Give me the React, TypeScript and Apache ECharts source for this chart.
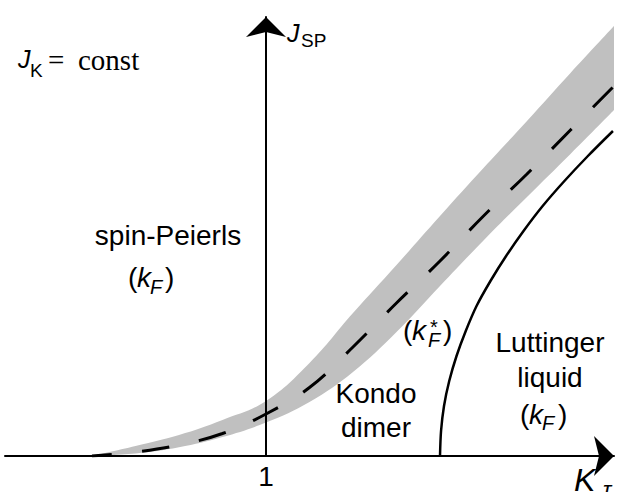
import React, { useEffect, useRef } from 'react';
import * as echarts from 'echarts';

// K_tau positions at which the band edges and the crossover line were read
const kValues = [0, 0.25, 0.5, 0.75, 1, 1.25, 1.5, 1.75, 2, 2.25, 2.5, 2.75, 3];
// upper / lower edge of the grey crossover band (J_SP)
const bandUpper = [0, 0.1, 0.21, 0.36, 0.55, 0.93, 1.43, 1.91, 2.4, 2.88, 3.35, 3.83, 4.3];
const bandLower = [0, 0.025, 0.087, 0.19, 0.335, 0.54, 0.84, 1.24, 1.7, 2.155, 2.59, 3.02, 3.46];
// dashed crossover line
const crossover = [0, 0.04, 0.11, 0.225, 0.42, 0.685, 1.09, 1.53, 1.95, 2.4, 2.82, 3.26, 3.7];
// solid Luttinger-liquid boundary (K_tau read at each J_SP)
const luttingerJ = [0, 0.25, 0.5, 0.75, 1, 1.25, 1.5, 1.75, 2, 2.25, 2.5, 2.75, 3, 3.25];
const luttingerK = [2.0, 2.006, 2.023, 2.053, 2.095, 2.148, 2.21, 2.29, 2.38, 2.48, 2.59, 2.715, 2.85, 2.994];
// tick labels
const xTickLabels = ['1'];

const SANS = '"Liberation Sans", Arial, Helvetica, sans-serif';
const SERIF = '"Liberation Serif", "Times New Roman", Times, serif';

type TOpts = { italic?: boolean; serif?: boolean; align?: string };
function txt(text: string, x: number, baseline: number, size: number, o: TOpts = {}) {
  const k = o.serif ? 0.3375 : 0.3465;
  const align = o.align || 'left';
  return {
    type: 'text',
    x,
    y: baseline - k * size,
    z: 100,
    silent: true,
    style: {
      text,
      fill: '#000',
      fontSize: size,
      fontFamily: o.serif ? SERIF : SANS,
      fontStyle: o.italic ? 'italic' : 'normal',
      fontWeight: 'normal',
      textAlign: align,
      align,
      textVerticalAlign: 'middle',
      verticalAlign: 'middle',
    },
  };
}

export default function App() {
  const ref = useRef<HTMLDivElement>(null);
  useEffect(() => {
    if (!ref.current) return;
    const chart = echarts.init(ref.current, null, { renderer: 'svg' });
    const axisLineStyle = { color: '#000', width: 2 };
    const option: any = {
      animation: false,
      backgroundColor: '#fff',
      grid: { left: 5, top: 17, width: 609, height: 439, containLabel: false },
      xAxis: [
        {
          type: 'value',
          min: -0.5,
          max: 3,
          z: 10,
          axisLine: {
            show: true,
            onZero: true,
            lineStyle: axisLineStyle,
            symbol: ['none', 'arrow'],
            symbolSize: [30, 20],
          },
          axisTick: { show: false },
          axisLabel: { show: false },
          splitLine: { show: false },
        },
        {
          type: 'value',
          position: 'bottom',
          min: -1.5,
          max: 2,
          interval: 0.5,
          z: 10,
          axisLine: { show: false },
          axisTick: { show: false },
          splitLine: { show: false },
          axisLabel: {
            show: true,
            formatter: (v: number) => (Math.abs(v) < 1e-9 ? xTickLabels[0] : ''),
            color: '#000',
            fontSize: 28,
            fontFamily: SANS,
            margin: 6,
          },
        },
      ],
      yAxis: {
        type: 'value',
        min: 0,
        max: 4.39,
        z: 10,
        axisLine: {
          show: true,
          onZero: true,
          onZeroAxisIndex: 1,
          lineStyle: axisLineStyle,
          symbol: ['none', 'arrow'],
          symbolSize: [30, 20],
        },
        axisTick: { show: false },
        axisLabel: { show: false },
        splitLine: { show: false },
      },
      series: [
        {
          type: 'line',
          name: 'bandUpper',
          data: kValues.map((k, i) => [k, bandUpper[i]]),
          showSymbol: false,
          symbol: 'none',
          smooth: 0.4,
          lineStyle: { width: 0, opacity: 0 },
          areaStyle: { color: '#c0c0c0', opacity: 1, origin: 'start' },
          z: 1,
        },
        {
          type: 'line',
          name: 'bandLower',
          data: kValues.map((k, i) => [k, bandLower[i]]),
          showSymbol: false,
          symbol: 'none',
          smooth: 0.4,
          lineStyle: { width: 0, opacity: 0 },
          areaStyle: { color: '#ffffff', opacity: 1, origin: 'start' },
          z: 2,
        },
        {
          type: 'line',
          name: 'crossover',
          data: kValues.map((k, i) => [k, crossover[i]]),
          showSymbol: false,
          symbol: 'none',
          smooth: 0.4,
          lineStyle: { color: '#000', width: 3, type: [28, 30], dashOffset: 8, cap: 'butt' },
          z: 3,
        },
        {
          type: 'line',
          name: 'luttinger',
          data: luttingerK.map((k, i) => [k, luttingerJ[i]]),
          showSymbol: false,
          symbol: 'none',
          smooth: 0.3,
          lineStyle: { color: '#000', width: 2.5 },
          z: 3,
        },
      ],
      graphic: [
        // J_K = const
        txt('J', 18, 68, 25, { italic: true }),
        txt('K', 30, 77, 19),
        txt('=', 48, 70, 29, { serif: true }),
        txt('const', 78, 70, 29, { serif: true }),
        // J_SP
        txt('J', 287, 42, 25, { italic: true }),
        txt('SP', 301, 47, 19),
        // spin-Peierls (k_F)
        txt('spin-Peierls', 168, 245, 28, { align: 'center' }),
        txt('(', 128, 287, 28),
        txt('k', 137, 287, 28, { italic: true }),
        txt('F', 150, 294, 20, { italic: true }),
        txt(')', 165, 287, 28),
        // (k_F*)
        txt('(', 403, 340, 28),
        txt('k', 412, 340, 28, { italic: true }),
        txt('*', 430, 334, 20),
        txt('F', 428, 347, 20, { italic: true }),
        txt(')', 443, 340, 28),
        // Kondo dimer
        txt('Kondo', 376, 403, 28, { align: 'center' }),
        txt('dimer', 376, 437, 28, { align: 'center' }),
        // Luttinger liquid (k_F)
        txt('Luttinger', 550, 352, 28, { align: 'center' }),
        txt('liquid', 550, 387, 28, { align: 'center' }),
        txt('(', 520, 424, 28),
        txt('k', 529, 424, 28, { italic: true }),
        txt('F', 542, 430, 20, { italic: true }),
        txt(')', 558, 424, 28),
        // K_tau
        txt('K', 574, 491, 32, { italic: true }),
        txt('τ', 603, 497, 22, { italic: true }),
      ],
    };
    chart.setOption(option);
    return () => chart.dispose();
  }, []);
  return (
    <div
      ref={ref}
      style={{ position: 'fixed', left: 0, top: 0, width: 628, height: 492, background: '#fff' }}
    />
  );
}
